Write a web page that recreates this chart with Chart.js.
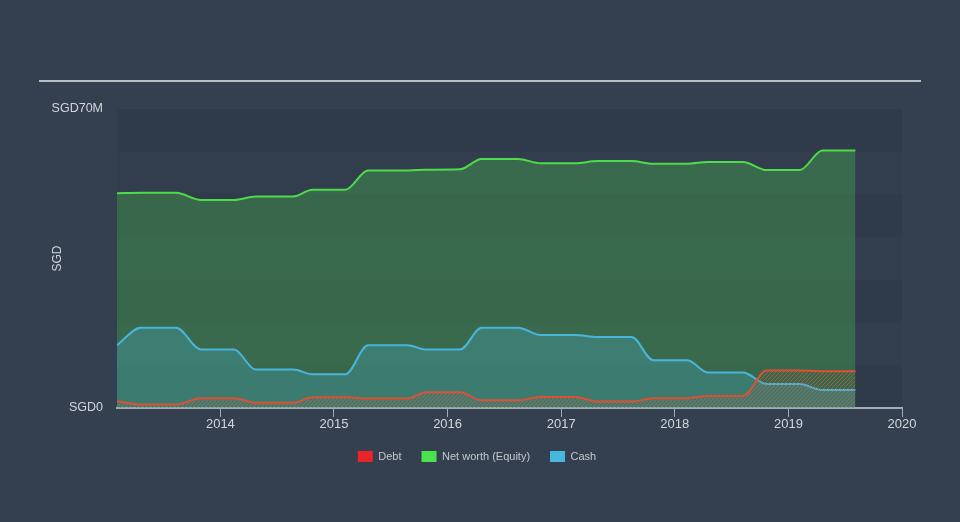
<!DOCTYPE html>
<html><head><meta charset="utf-8">
<script src="https://cdn.jsdelivr.net/npm/chart.js@4.4.1/dist/chart.umd.min.js"></script>
<style>html,body{margin:0;padding:0;background:#344050;overflow:hidden}#wrap{width:960px;height:522px}</style>
</head><body><div id="wrap"><canvas id="c" width="960" height="522"></canvas></div>
<script>
// Reporting dates (decimal years)
const years = [2013.09,2013.30,2013.61,2013.83,2014.12,2014.31,2014.64,2014.81,2015.10,2015.30,2015.65,2015.81,2016.11,2016.30,2016.62,2016.82,2017.12,2017.32,2017.62,2017.81,2018.11,2018.29,2018.60,2018.81,2019.10,2019.30,2019.59];
// Values in SGD millions
const debt   = [1.6,0.8,0.8,2.3,2.3,1.2,1.2,2.5,2.5,2.2,2.2,3.7,3.7,1.8,1.8,2.6,2.6,1.5,1.5,2.3,2.3,2.8,2.8,8.8,8.8,8.6,8.6];
const equity = [50.3,50.4,50.4,48.7,48.7,49.5,49.5,51.1,51.1,55.6,55.6,55.8,55.9,58.3,58.3,57.3,57.3,57.8,57.8,57.2,57.2,57.6,57.6,55.7,55.7,60.3,60.3];
const cash   = [14.7,18.8,18.8,13.7,13.7,9.0,9.0,7.9,7.9,14.7,14.7,13.7,13.7,18.8,18.8,17.1,17.1,16.6,16.6,11.2,11.2,8.3,8.3,5.6,5.6,4.2,4.2];
const xTicks = [2014,2015,2016,2017,2018,2019,2020];
const yTicks = [0,70];
const seriesNames = ['Debt','Net worth (Equity)','Cash'];
const legendColors = ['#e8262a','#4be34b','#4ab8dc'];

const toPts = arr => arr.map((v,i)=>({x:years[i], y:v}));

// hatch pattern for debt
const pc = document.createElement('canvas'); pc.width = 4; pc.height = 4;
const pctx = pc.getContext('2d');
pctx.strokeStyle = 'rgba(214,90,62,0.65)'; pctx.lineWidth = 1;
pctx.beginPath();
pctx.moveTo(0,4); pctx.lineTo(4,0);
pctx.moveTo(-2,2); pctx.lineTo(2,-2);
pctx.moveTo(2,6); pctx.lineTo(6,2);
pctx.stroke();
const ctx = document.getElementById('c').getContext('2d');
const hatch = ctx.createPattern(pc,'repeat');

const bgPlugin = {
  id:'bg',
  afterLayout(chart){
    if(chart.legend){ chart.legend.left += 26; chart.legend.right += 26; }
  },
  beforeDraw(chart){
    const c = chart.ctx, a = chart.chartArea, y = chart.scales.y;
    c.save();
    c.fillStyle = '#344050';
    c.fillRect(0,0,chart.width,chart.height);
    for(let v=0; v<70; v+=10){
      const top = y.getPixelForValue(v+10), bot = y.getPixelForValue(v);
      c.fillStyle = ((v/10)%2===0) ? 'rgba(20,28,40,0.15)' : 'rgba(20,28,40,0.04)';
      c.fillRect(a.left, top, a.right-a.left, bot-top);
    }
    c.strokeStyle = '#b9bec5'; c.lineWidth = 2;
    c.beginPath(); c.moveTo(39,81); c.lineTo(921,81); c.stroke();
    c.restore();
  }
};

const order = {'Debt':0,'Net worth (Equity)':1,'Cash':2};

new Chart(ctx,{
  type:'line',
  data:{datasets:[
    {label:seriesNames[0], data:toPts(debt), borderColor:'#dd5034', backgroundColor:hatch, fill:'origin', borderWidth:2, pointRadius:0, cubicInterpolationMode:'monotone', order:0},
    {label:seriesNames[2], data:toPts(cash), borderColor:'#48b6dc', backgroundColor:'rgba(74,185,221,0.26)', fill:'origin', borderWidth:2, pointRadius:0, cubicInterpolationMode:'monotone', order:1},
    {label:seriesNames[1], data:toPts(equity), borderColor:'#4fdc4a', backgroundColor:'rgba(78,210,80,0.3)', fill:'origin', borderWidth:2, pointRadius:0, cubicInterpolationMode:'monotone', order:2}
  ]},
  options:{
    responsive:false, animation:false, devicePixelRatio:1,
    layout:{padding:{left:0, top:109, right:58, bottom:50}},
    plugins:{
      tooltip:{enabled:false},
      legend:{position:'bottom',
        labels:{boxWidth:15, boxHeight:11, padding:20, color:'#c3c8cf', font:{family:'Liberation Sans, Arial', size:11},
          generateLabels(chart){
            return chart.data.datasets.map((d,i)=>({text:d.label, fillStyle:legendColors[seriesNames.indexOf(d.label)], strokeStyle:'rgba(0,0,0,0)', lineWidth:0, hidden:false, datasetIndex:i, fontColor:'#c3c8cf'}));
          },
          sort:(a,b)=>order[a.text]-order[b.text]
        }}
    },
    scales:{
      x:{type:'linear', min:2013.09, max:2020,
        afterBuildTicks:s=>{s.ticks = xTicks.map(v=>({value:v}));},
        afterFit:s=>{s.height = 23;},
        ticks:{callback:v=>String(v), color:'#d2d6dc', font:{family:'Liberation Sans, Arial', size:13}, padding:0, maxRotation:0, autoSkip:false},
        grid:{drawOnChartArea:false, drawTicks:true, tickLength:9, color:'#a3abb7', lineWidth:1},
        border:{display:true, color:'#a3abb7', width:2}
      },
      y:{min:0, max:70,
        afterBuildTicks:s=>{s.ticks = yTicks.map(v=>({value:v}));},
        afterFit:s=>{s.width = 117;},
        ticks:{callback:v=>'SGD'+v+(v?'M':''), color:'#d2d6dc', font:{family:'Liberation Sans, Arial', size:12.5}, padding:14},
        grid:{display:false, drawTicks:false},
        border:{display:false},
        title:{display:true, text:'SGD', color:'#d2d6dc', font:{family:'Liberation Sans, Arial', size:12}, padding:{top:50, bottom:0}}
      }
    }
  },
  plugins:[bgPlugin]
});
</script>
</body></html>
